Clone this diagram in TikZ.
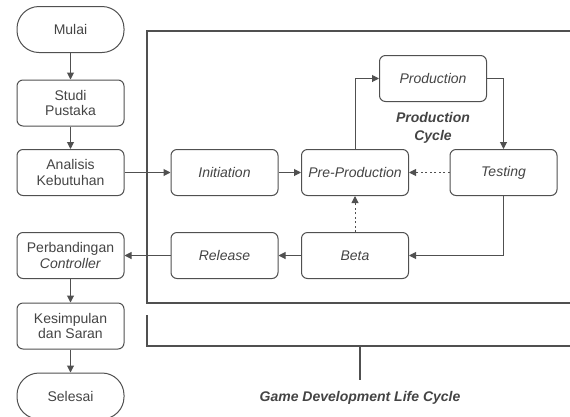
\documentclass[tikz,border=0pt]{standalone}
\usepackage{fontspec}
\setmainfont{Liberation Sans}
\usetikzlibrary{arrows.meta}
\definecolor{txt}{HTML}{444444}
\definecolor{ln}{HTML}{505050}
\tikzset{
  box/.style={draw=ln, line width=1pt, rounded corners=6pt, minimum width=107pt, minimum height=46pt, align=center, text=txt, inner sep=1pt, font=\fontsize{14}{15.5}\selectfont},
  term/.style={box, rounded corners=22pt},
  ibox/.style={box, font=\fontsize{14}{15.5}\selectfont\itshape},
  arr/.style={draw=ln, line width=1pt, -{Triangle[length=7pt,width=7pt]}},
  darr/.style={arr, dash pattern=on 2pt off 2.5pt},
  frame/.style={draw=ln, line width=1.1pt},
}
\begin{document}
\begin{tikzpicture}[x=1pt,y=-1pt]
\useasboundingbox (0,0) rectangle (570,416);
\clip (0,0) rectangle (570,416);
% frames
\draw[frame] (570,31) -- (147,31) -- (147,303) -- (570,303);
\draw[frame] (147,315) -- (147,346) -- (570,346);
\coordinate (tickTop) at (360,346);
\node[text=txt, font=\fontsize{14}{15}\selectfont\bfseries\itshape] (gdlc) at (360,398) {Game Development Life Cycle};
\draw[frame] (tickTop) -- (360,380);
% left column
\node[term] (mulai) at (70.5,29.5) {Mulai};
\node[box] (studi) at (70.5,103) {Studi\\Pustaka};
\node[box] (analisis) at (70.5,172.5) {Analisis\\Kebutuhan};
\node[box] (banding) at (70.5,255.5) {Perbandingan\\\textit{Controller}};
\node[box] (simpul) at (70.5,326) {Kesimpulan\\dan Saran};
\node[term] (selesai) at (70.5,396) {Selesai};
% GDLC boxes
\node[ibox] (init) at (224.5,172.5) {Initiation};
\node[ibox] (pre) at (355,172.5) {Pre-Production};
\node[ibox] (prod) at (433,78.5) {Production};
\node[ibox] (test) at (503.5,172.5) {Testing};
\node[ibox] (beta) at (355,255.5) {Beta};
\node[ibox] (rel) at (224.5,255.5) {Release};
\node[text=txt, align=center, font=\fontsize{14}{17.5}\selectfont\bfseries\itshape] (pc) at (433,128) {Production\\Cycle};
% connectors
\draw[arr] (mulai) -- (studi);
\draw[arr] (studi) -- (analisis);
\draw[arr] (banding) -- (simpul);
\draw[arr] (simpul) -- (selesai);
\draw[arr] (analisis) -- (init);
\draw[arr] (init) -- (pre);
\draw[arr] (pre.north) |- (prod.west);
\draw[arr] (prod.east) -| (test.north);
\draw[darr] (test) -- (pre);
\draw[arr] (test.south) |- (beta.east);
\draw[darr] (beta) -- (pre);
\draw[arr] (beta) -- (rel);
\draw[arr] (rel) -- (banding);
\end{tikzpicture}
\end{document}
